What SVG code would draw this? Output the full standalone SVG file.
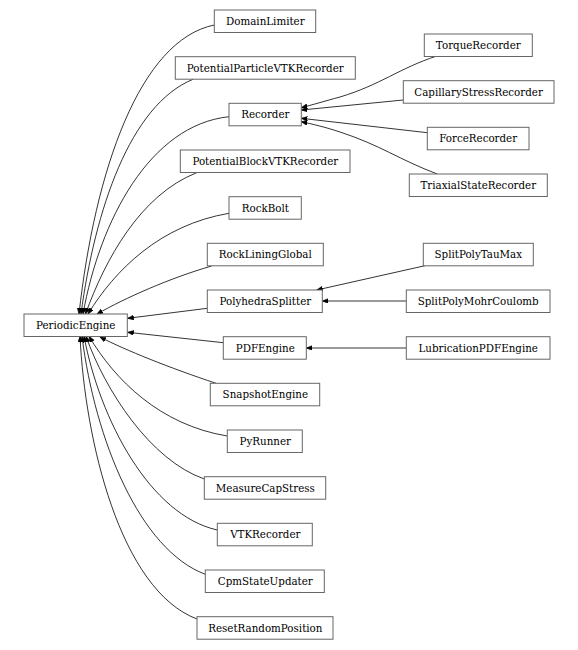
<svg xmlns="http://www.w3.org/2000/svg" width="578" height="650" viewBox="0 0 578 650">
<defs>
<style>
.n rect{fill:#fff;stroke:#666;stroke-width:1}
.n text{font-family:"DejaVu Serif",serif;font-size:10.3px;fill:#000;text-anchor:middle}
.e path{fill:none;stroke:#000;stroke-width:0.8;marker-end:url(#ah)}
</style>
<marker id="ah" markerUnits="userSpaceOnUse" markerWidth="8" markerHeight="6" refX="6" refY="2.4" orient="auto" viewBox="0 0 8 6">
<path d="M0,0 L6,2.4 L0,4.8 z" fill="#000" stroke="#000" stroke-width="0.6"/>
</marker>
</defs>
<rect width="578" height="650" fill="#fff"/>
<g id="edges" class="e">
<path d="M214.3,25 C140,40 95,170 79,314"/>
<path d="M193,79.3 C130,105 95,210 81,314"/>
<path d="M229,116.7 C150,125 100,220 83,314"/>
<path d="M196.7,172.7 C140,195 105,260 85.5,314"/>
<path d="M229,213.3 C160,225 115,270 88,314"/>
<path d="M211.7,266 C170,278 125,298 97,314"/>
<path d="M207.3,308.3 L127.7,318.3"/>
<path d="M223.3,342.7 L127.7,332.3"/>
<path d="M216,383.3 C170,368 125,350 100,337"/>
<path d="M227.3,436 C160,425 115,380 89,336.3"/>
<path d="M204.3,479 C150,460 105,390 86,336.3"/>
<path d="M217.3,530 C150,515 100,420 84,336.3"/>
<path d="M205.3,574.3 C140,550 95,440 82,336.3"/>
<path d="M197,619 C120,590 85,440 80,336.3"/>
<path d="M436,56.3 C400,68 380,85 340,97 C325,101 312,105 301.3,107.7"/>
<path d="M403.3,100 L301.3,110"/>
<path d="M427.3,132.7 L301.3,118.3"/>
<path d="M437.3,174 C400,160 380,145 340,132 C325,127 312,124 301.3,121.7"/>
<path d="M425,265.7 L316.7,290"/>
<path d="M406.3,301 L322.3,301"/>
<path d="M406.3,348 L306.3,348"/>
</g>
<g id="PeriodicEngine" class="n"><rect x="24" y="314" width="103.3" height="22.5"/><text x="75.7" y="329">PeriodicEngine</text></g>
<g id="DomainLimiter" class="n"><rect x="214.3" y="10" width="101.4" height="22.5"/><text x="265.3" y="25">DomainLimiter</text></g>
<g id="PotentialParticleVTKRecorder" class="n"><rect x="175.3" y="56.7" width="180" height="22.5"/><text x="265.3" y="71.7">PotentialParticleVTKRecorder</text></g>
<g id="Recorder" class="n"><rect x="229" y="103.3" width="72.3" height="22.5"/><text x="265.3" y="118.3">Recorder</text></g>
<g id="PotentialBlockVTKRecorder" class="n"><rect x="180.3" y="150" width="169.7" height="22.5"/><text x="265.3" y="165">PotentialBlockVTKRecorder</text></g>
<g id="RockBolt" class="n"><rect x="229" y="196.7" width="72.3" height="22.5"/><text x="265.3" y="211.7">RockBolt</text></g>
<g id="RockLiningGlobal" class="n"><rect x="207.3" y="243.3" width="116" height="22.5"/><text x="265.3" y="258.3">RockLiningGlobal</text></g>
<g id="PolyhedraSplitter" class="n"><rect x="207.3" y="290" width="115" height="22.5"/><text x="265.3" y="305">PolyhedraSplitter</text></g>
<g id="PDFEngine" class="n"><rect x="223.3" y="336.7" width="83" height="22.5"/><text x="265.3" y="351.7">PDFEngine</text></g>
<g id="SnapshotEngine" class="n"><rect x="210.3" y="383.3" width="109.4" height="22.5"/><text x="265.3" y="398.3">SnapshotEngine</text></g>
<g id="PyRunner" class="n"><rect x="227.3" y="430" width="75" height="22.5"/><text x="265.3" y="445">PyRunner</text></g>
<g id="MeasureCapStress" class="n"><rect x="204.3" y="476.7" width="121.4" height="22.5"/><text x="265.3" y="491.7">MeasureCapStress</text></g>
<g id="VTKRecorder" class="n"><rect x="217.3" y="523.3" width="95" height="22.5"/><text x="265.3" y="538.3">VTKRecorder</text></g>
<g id="CpmStateUpdater" class="n"><rect x="205.3" y="570" width="119" height="22.5"/><text x="265.3" y="585">CpmStateUpdater</text></g>
<g id="ResetRandomPosition" class="n"><rect x="197" y="616.7" width="136" height="22.5"/><text x="265.3" y="631.7">ResetRandomPosition</text></g>
<g id="TorqueRecorder" class="n"><rect x="424.3" y="34" width="108" height="22.5"/><text x="478.3" y="49">TorqueRecorder</text></g>
<g id="CapillaryStressRecorder" class="n"><rect x="403.3" y="80.7" width="150.7" height="22.5"/><text x="478.6" y="95.7">CapillaryStressRecorder</text></g>
<g id="ForceRecorder" class="n"><rect x="427.3" y="127.3" width="101.7" height="22.5"/><text x="478.2" y="142.3">ForceRecorder</text></g>
<g id="TriaxialStateRecorder" class="n"><rect x="409.3" y="174" width="138" height="22.5"/><text x="478.3" y="189">TriaxialStateRecorder</text></g>
<g id="SplitPolyTauMax" class="n"><rect x="423.3" y="243.3" width="110" height="22.5"/><text x="478.3" y="258.3">SplitPolyTauMax</text></g>
<g id="SplitPolyMohrCoulomb" class="n"><rect x="406.3" y="290" width="143.7" height="22.5"/><text x="478.2" y="305">SplitPolyMohrCoulomb</text></g>
<g id="LubricationPDFEngine" class="n"><rect x="406.3" y="336.7" width="143.7" height="22.5"/><text x="478.2" y="351.7">LubricationPDFEngine</text></g>
</svg>
